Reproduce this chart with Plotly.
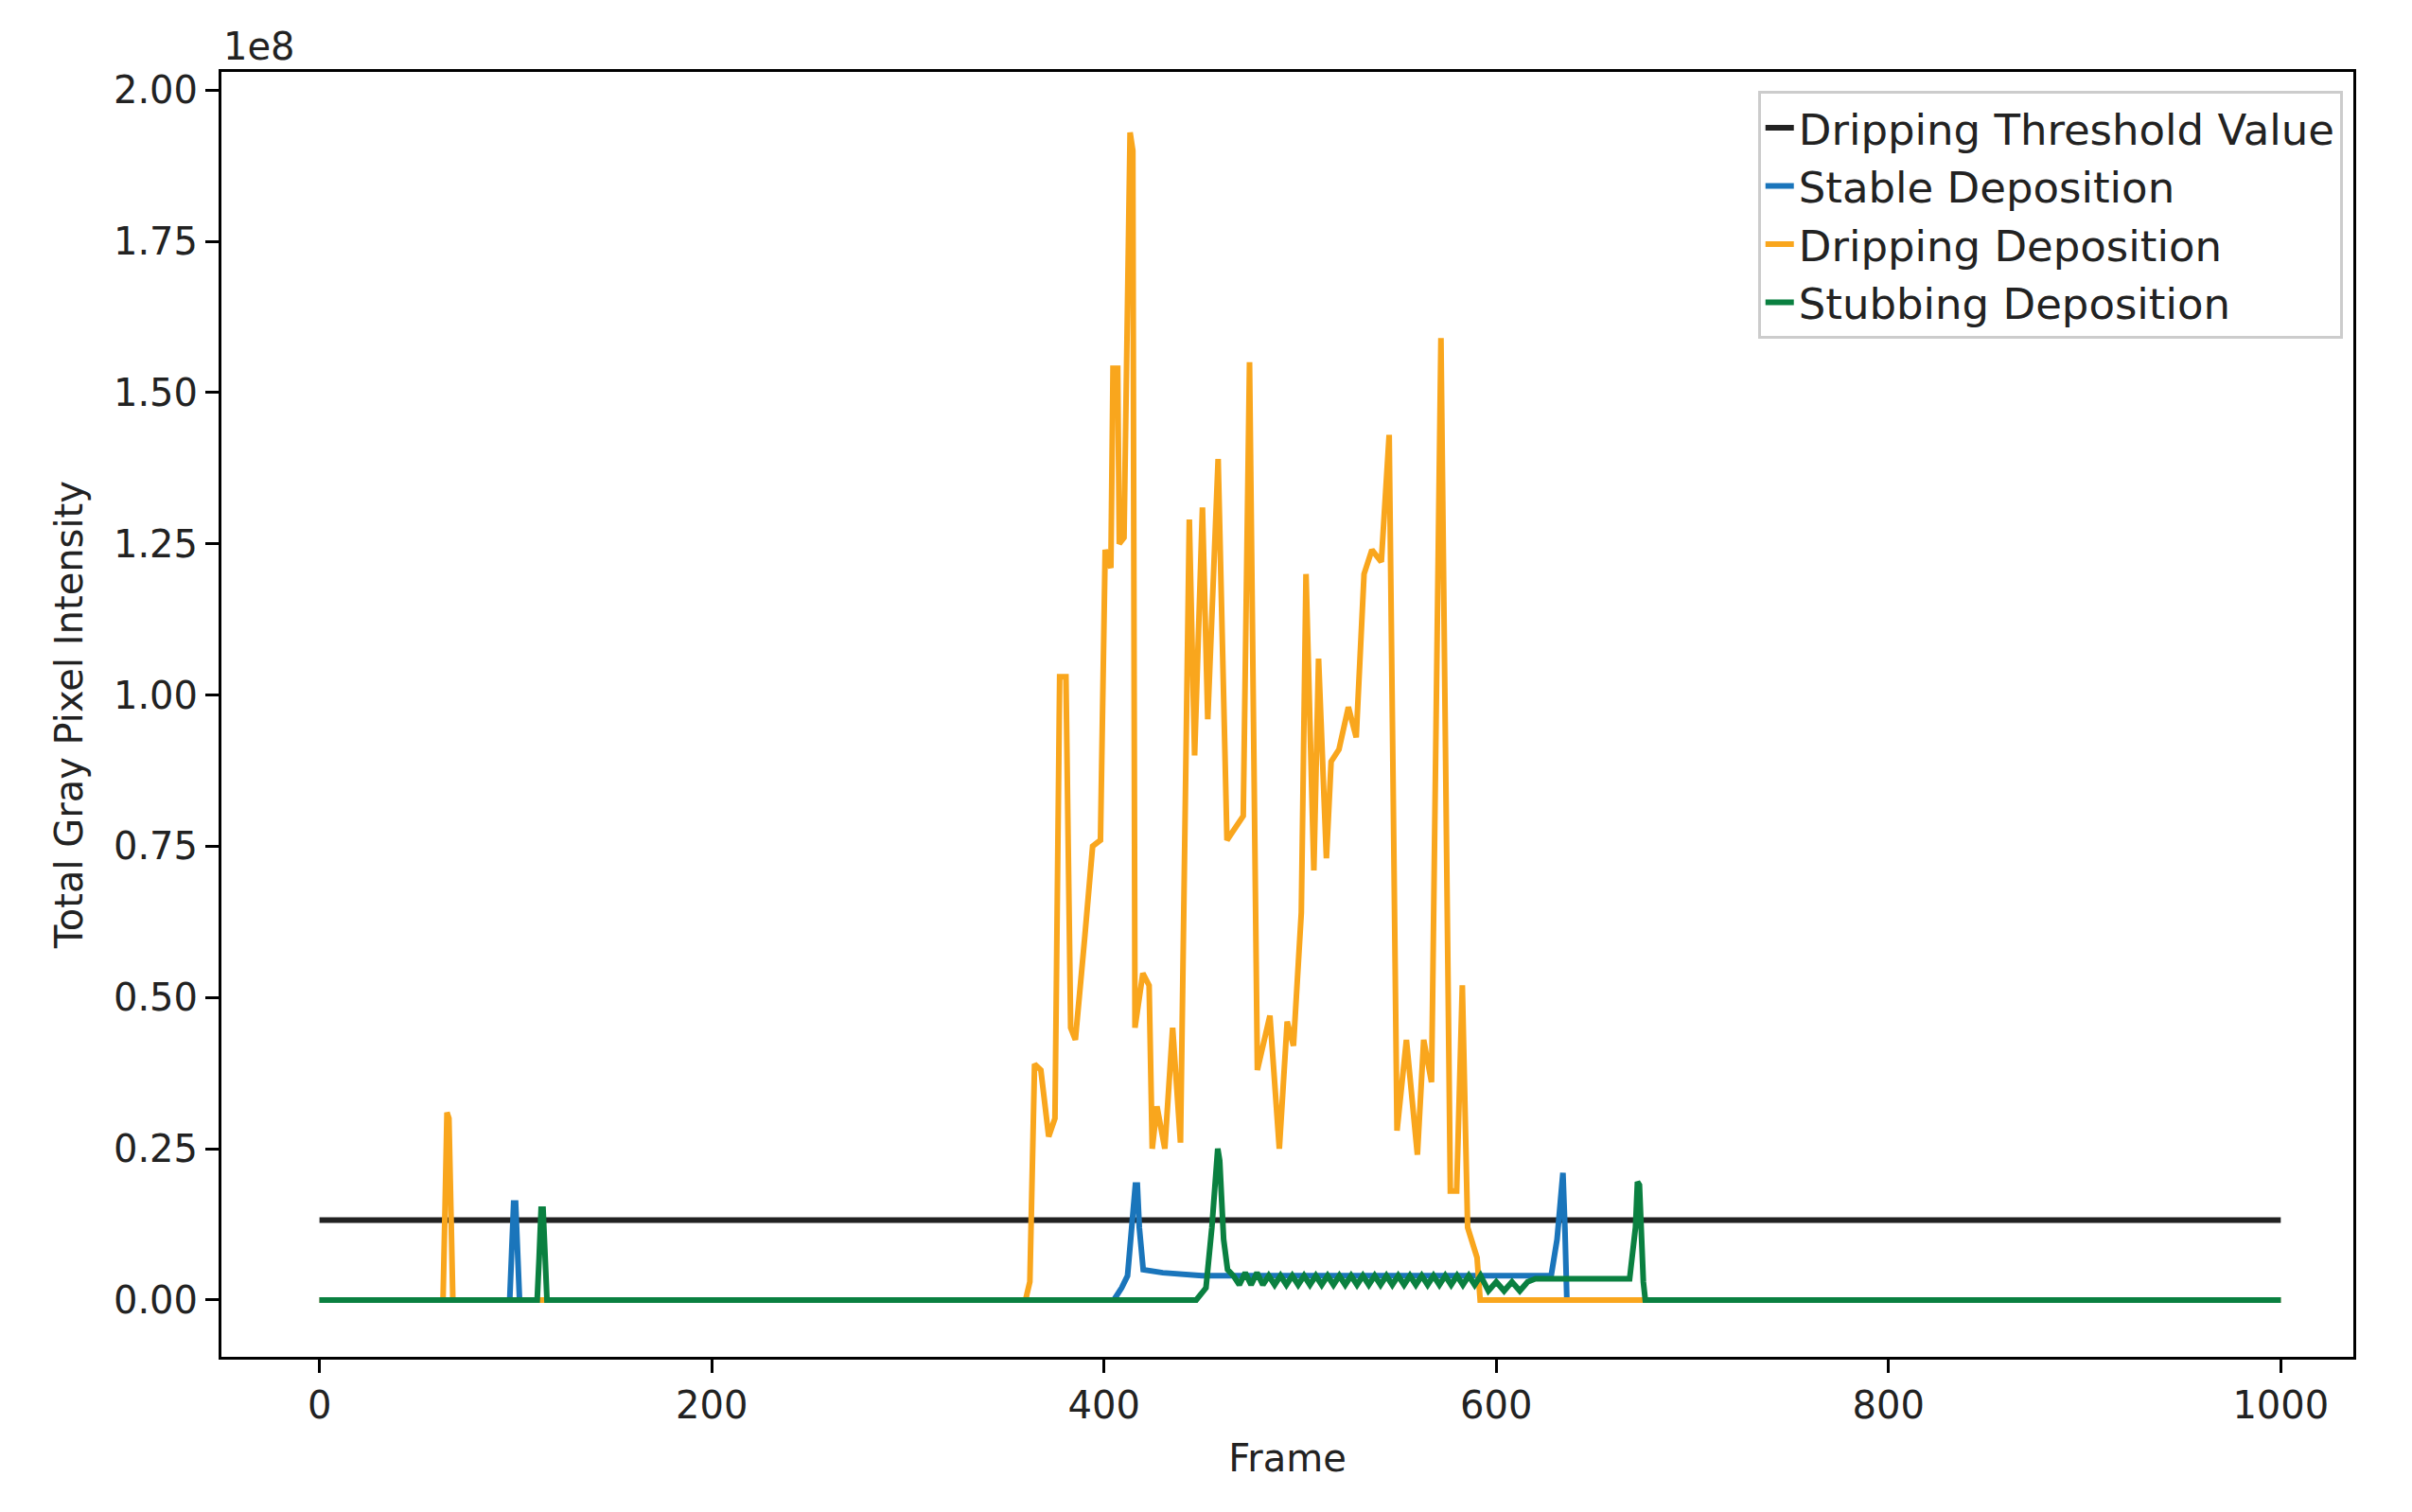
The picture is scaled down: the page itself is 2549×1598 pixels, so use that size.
import plotly.graph_objects as go

# values in units of 1e8
threshold_x = [0, 1000]
threshold_y = [0.132, 0.132]

stable_x = [0, 97, 98, 99, 100, 101, 102, 405, 409, 412, 414, 416, 417, 418, 420, 430, 450, 500, 560, 600, 628, 631, 633, 634, 635, 636, 1000]
stable_y = [0, 0, 0.08, 0.16, 0.16, 0.08, 0, 0, 0.02, 0.04, 0.12, 0.19, 0.19, 0.12, 0.05, 0.045, 0.04, 0.04, 0.04, 0.04, 0.04, 0.1, 0.19, 0.21, 0.12, 0, 0]

dripping_x = [0, 63, 64, 65, 66, 67, 68, 360, 362.2, 364.6, 367.8, 371.8, 375, 377.4, 380.6, 383, 385.4, 390.2, 394.2, 398.2,
              400.6, 403.5, 404.6, 407, 407.8, 410.2, 411.8, 413.3, 414.7, 415.8, 419.8, 423, 424.6, 427, 431, 435, 439,
              443.5, 446.2, 450.2, 452.9, 458.2, 462.7, 467, 471, 474.2, 478.2, 484.6, 489.4, 493.4, 496.6, 500.6,
              503, 507, 509.4, 513.4, 515.8, 519.8, 524.6, 528.6, 532.6, 536.6, 541.4, 545.4, 549.4, 554.2, 559.8,
              563, 567, 571.8, 576.6, 579.8, 582.7, 585.4, 590.2, 591.8, 1000]
dripping_y = [0, 0, 0.15, 0.31, 0.30, 0.15, 0, 0, 0.03, 0.39, 0.38, 0.27, 0.30, 1.03, 1.03, 0.45, 0.43, 0.60, 0.75, 0.76,
              1.24, 1.21, 1.54, 1.54, 1.25, 1.26, 1.60, 1.93, 1.90, 0.45, 0.54, 0.52, 0.25, 0.32, 0.25, 0.45, 0.26,
              1.29, 0.90, 1.31, 0.96, 1.39, 0.76, 0.78, 0.80, 1.55, 0.38, 0.47, 0.25, 0.46, 0.42, 0.64,
              1.20, 0.71, 1.06, 0.73, 0.89, 0.91, 0.98, 0.93, 1.20, 1.24, 1.22, 1.43, 0.28, 0.43, 0.24,
              0.43, 0.36, 1.59, 0.18, 0.18, 0.52, 0.12, 0.07, 0, 0]

stubbing_x = [0, 111, 112, 113, 114, 115, 116, 447, 452, 455, 457, 458, 459, 461, 463,
              466, 469, 472, 475, 478, 481, 484, 487, 490, 493, 496, 499, 502, 505, 508, 511, 514, 517, 520,
              523, 526, 529, 532, 535, 538, 541, 544, 547, 550, 553, 556, 559, 562, 565, 568, 571, 574, 577,
              580, 583, 586, 589, 592, 596, 600, 604, 608, 612, 616, 620, 640, 668, 671, 672, 673, 674, 675, 676, 1000]
stubbing_y = [0, 0, 0.07, 0.15, 0.15, 0.07, 0, 0, 0.02, 0.12, 0.23, 0.25, 0.23, 0.1, 0.05,
              0.04, 0.025, 0.045, 0.025, 0.045, 0.025, 0.04, 0.025, 0.04, 0.025, 0.04, 0.025, 0.04, 0.025, 0.04, 0.025, 0.04, 0.025, 0.04,
              0.025, 0.04, 0.025, 0.04, 0.025, 0.04, 0.025, 0.04, 0.025, 0.04, 0.025, 0.04, 0.025, 0.04, 0.025, 0.04, 0.025, 0.04, 0.025,
              0.04, 0.025, 0.04, 0.025, 0.04, 0.015, 0.03, 0.015, 0.03, 0.015, 0.03, 0.035, 0.035, 0.035, 0.12, 0.195, 0.19, 0.1, 0.03, 0, 0]

series = [
    ("Dripping Threshold Value", threshold_x, threshold_y, "#222222"),
    ("Stable Deposition", stable_x, stable_y, "#1a75bb"),
    ("Dripping Deposition", dripping_x, dripping_y, "#f9a61d"),
    ("Stubbing Deposition", stubbing_x, stubbing_y, "#0a8040"),
]

fig = go.Figure()
for name, xs, ys, col in series:
    fig.add_trace(go.Scatter(x=xs, y=ys, name=name, mode="lines", line=dict(color=col, width=6)))

axis_common = dict(showline=True, linecolor="black", linewidth=3, mirror=True, ticks="outside",
                   ticklen=14, tickwidth=3, tickcolor="black", showgrid=False, zeroline=False,
                   tickfont=dict(size=40, color="#222"))
fig.update_xaxes(range=[-50, 1037], tickvals=[0, 200, 400, 600, 800, 1000],
                 title=dict(text="Frame", font=dict(size=40, color="#222"), standoff=20), **axis_common)
fig.update_yaxes(range=[-0.094, 2.03], tickvals=[0, 0.25, 0.5, 0.75, 1.0, 1.25, 1.5, 1.75, 2.0], tickformat=".2f",
                 title=dict(text="Total Gray Pixel Intensity", font=dict(size=40, color="#222"), standoff=20), **axis_common)

fig.add_annotation(text="1e8", xref="paper", yref="paper", x=0, y=1, xanchor="left", yanchor="bottom",
                   showarrow=False, font=dict(size=40, color="#222"), yshift=2)

fig.update_layout(
    width=2549, height=1598, plot_bgcolor="white", paper_bgcolor="white",
    font=dict(family="DejaVu Sans"),
    margin=dict(l=226, r=70, t=68, b=172),
    legend=dict(x=0.995, y=0.985, xanchor="right", yanchor="top", bgcolor="rgba(255,255,255,0.8)",
                bordercolor="#cccccc", borderwidth=3, font=dict(size=45, color="#222"), tracegroupgap=0),
)
fig.write_html("out.html")
